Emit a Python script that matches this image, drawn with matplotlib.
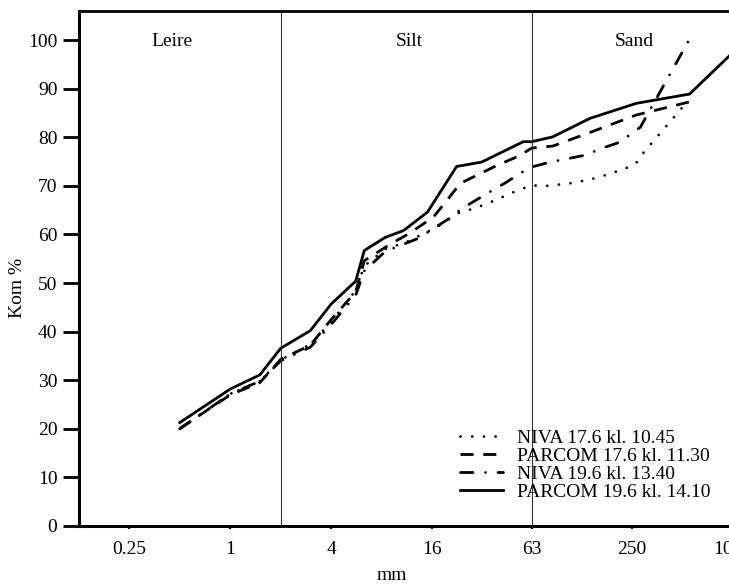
import matplotlib
matplotlib.use("Agg")
import matplotlib.pyplot as plt
from matplotlib.ticker import FixedLocator, FixedFormatter, NullLocator

plt.rcParams['font.family'] = ['Liberation Serif', 'DejaVu Serif']

# ---- data ----
size_niva176 = [0.5, 1, 1.5, 2, 3, 4, 5.6, 6.3, 8.4, 11, 17.1, 23.5, 28.2, 33.1, 38.9, 46.6, 54.8, 63,
                77, 111, 156, 220, 260, 290, 520]
pct_niva176 = [20.0, 27.2, 29.8, 34.2, 37.4, 42.0, 48.5, 53.5, 57.0, 58.3, 61.5, 64.6, 65.3, 66.2, 67.2,
               68.4, 69.4, 70.1, 70.0, 70.6, 71.7, 73.4, 74.4, 76.7, 86.9]

size_parcom176 = [0.5, 1, 1.5, 2, 3, 4, 5.6, 6.3, 9, 11.8, 16.3, 19.6, 23.5, 29.6, 38.9, 52.3, 63,
                  84, 140, 265, 550]
pct_parcom176 = [20.1, 27.0, 29.5, 34.3, 37.2, 42.5, 48.2, 54.6, 58.0, 60.3, 63.6, 67.0, 70.5, 72.2,
                 74.2, 76.1, 77.8, 78.2, 81.0, 84.6, 87.3]

size_niva196 = [0.5, 1, 1.5, 2, 3, 4, 5.6, 6.3, 8.4, 13, 16.3, 20, 24, 33.9, 44.6, 54.8, 63,
                81, 130, 167, 211, 280, 560]
pct_niva196 = [20.0, 27.2, 29.8, 34.0, 36.8, 41.5, 47.5, 52.5, 56.5, 59.1, 61.2, 63.2, 65.3, 68.4,
               70.8, 72.8, 73.9, 74.9, 76.3, 77.8, 79.0, 82.1, 100.7]

size_parcom196 = [0.5, 1, 1.5, 2, 3, 4, 5.6, 6.3, 8.4, 10.8, 15, 22.4, 31.6, 56, 63, 84, 140, 265, 550, 1000]
pct_parcom196 = [21.3, 28.2, 31.1, 36.6, 40.2, 45.7, 50.4, 56.7, 59.4, 60.8, 64.6, 74.0, 74.9, 79.1,
                 79.1, 80.1, 83.9, 87.0, 88.9, 97.5]

labels = ["NIVA 17.6 kl. 10.45", "PARCOM 17.6 kl. 11.30", "NIVA 19.6 kl. 13.40", "PARCOM 19.6 kl. 14.10"]

x_ticks = [0.25, 1, 4, 16, 63, 250, 1000]
x_ticklabels = ["0.25", "1", "4", "16", "63", "250", "1000"]
y_ticks = [0, 10, 20, 30, 40, 50, 60, 70, 80, 90, 100]

boundaries = [2, 63]
zone_names = ["Leire", "Silt", "Sand"]

FS = 14

# ---- figure ----
W, H = 729, 584
fig = plt.figure(figsize=(W / 100, H / 100), dpi=100)
left, right, top, bottom = 79, 783.5, 11, 526
ax = fig.add_axes([left / W, 1 - bottom / H, (right - left) / W, (bottom - top) / H])

ax.set_xscale('log', base=2)
ax.set_xlim(0.125, 2000)
ax.set_ylim(0, 106)

lw = 2.0
ax.plot(size_niva176, pct_niva176, color='black', lw=lw, linestyle=(0, (0.01, 4.2)),
        dash_capstyle='round', label=labels[0])
ax.plot(size_parcom176, pct_parcom176, color='black', lw=lw, linestyle=(0, (4.7, 3.5)),
        label=labels[1])
ax.plot(size_niva196, pct_niva196, color='black', lw=lw, linestyle=(0, (4.5, 4.5, 0.01, 4.5)),
        dash_capstyle='round', label=labels[2])
ax.plot(size_parcom196, pct_parcom196, color='black', lw=lw, linestyle='-', label=labels[3])

for b in boundaries:
    ax.axvline(b, color='#333333', lw=0.8)

# zone names
for name, px in zip(zone_names, [172, 409, 634]):
    fig.text(px / W, 1 - 41 / H, name, ha='center', va='center', fontsize=FS)

# spines
for s in ['left', 'bottom']:
    ax.spines[s].set_linewidth(2.2)
ax.spines['top'].set_linewidth(2.0)
ax.spines['right'].set_visible(False)

ax.xaxis.set_major_locator(FixedLocator(x_ticks))
ax.xaxis.set_major_formatter(FixedFormatter(x_ticklabels))
ax.xaxis.set_minor_locator(NullLocator())
ax.set_yticks(y_ticks)
ax.tick_params(axis='y', direction='out', length=11.5, width=2.0, pad=4, labelsize=FS)
ax.tick_params(axis='x', direction='out', length=2.5, width=1.5, pad=8, labelsize=FS)

fig.text(18 / W, 1 - 288 / H, "Kom %", rotation=90, ha='center', va='center', fontsize=FS)
fig.text(392 / W, 1 - 575 / H, "mm", ha='center', va='center', fontsize=FS)

leg = ax.legend(loc='upper left', bbox_to_anchor=(460 / W, 1 - 429 / H),
                bbox_transform=fig.transFigure, frameon=False, fontsize=FS,
                handlelength=2.2, handletextpad=0.75, labelspacing=0.03,
                borderpad=0, borderaxespad=0)

fig.savefig("out.png", dpi=100)
